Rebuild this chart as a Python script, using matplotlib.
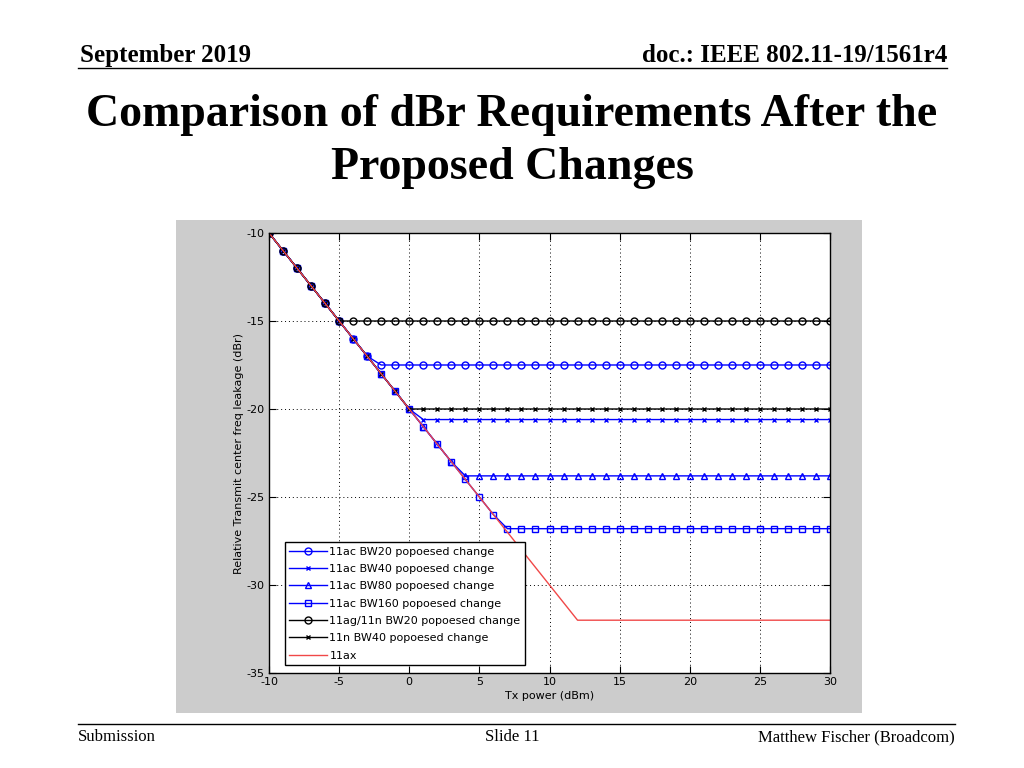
import numpy as np
import matplotlib
matplotlib.use("Agg")
import matplotlib.pyplot as plt
from matplotlib.patches import Rectangle
from matplotlib.lines import Line2D

plt.rcParams["axes.unicode_minus"] = False

# ---- data ----
tx_power = list(range(-10, 31))
slope_start = -10.0  # dBr at -10 dBm, slope -1 dB/dB
floor_ac20 = -17.5
floor_ac40 = -20.6
floor_ac80 = -23.8
floor_ac160 = -26.8
floor_ag20 = -15.0
floor_n40 = -20.0
floor_ax = -32.0

series_labels = ["11ac BW20 popoesed change", "11ac BW40 popoesed change",
                 "11ac BW80 popoesed change", "11ac BW160 popoesed change",
                 "11ag/11n BW20 popoesed change", "11n BW40 popoesed change", "11ax"]
x_ticks = [-10, -5, 0, 5, 10, 15, 20, 25, 30]
y_ticks = [-35, -30, -25, -20, -15, -10]

x = np.array(tx_power, dtype=float)
base = slope_start - (x - x[0])
def curve(floor):
    return np.maximum(base, floor)

ax_x = np.array([-10, 12, 30], dtype=float)
ax_y = np.array([slope_start, floor_ax, floor_ax])

fig = plt.figure(figsize=(10.24, 7.68), dpi=100)
fig.patch.set_facecolor("white")

serif = ["Liberation Serif", "DejaVu Serif"]
# header
fig.text(80/1024, 1-62/768, "September 2019", family=serif, weight="bold", fontsize=18, va="baseline", ha="left")
fig.text(947/1024, 1-62/768, "doc.: IEEE 802.11-19/1561r4", family=serif, weight="bold", fontsize=18, va="baseline", ha="right")
fig.add_artist(Line2D([78/1024, 947/1024], [1-68/768, 1-68/768], color="black", lw=1))
# title
fig.text(512/1024, 1-126/768, "Comparison of dBr Requirements After the", family=serif, weight="bold", fontsize=33, va="baseline", ha="center")
fig.text(512/1024, 1-179/768, "Proposed Changes", family=serif, weight="bold", fontsize=33, va="baseline", ha="center")
# footer
fig.add_artist(Line2D([78/1024, 955/1024], [1-724/768, 1-724/768], color="black", lw=1))
fig.text(78/1024, 1-737/768, "Submission", family=serif, fontsize=12, va="center", ha="left")
fig.text(512/1024, 1-737/768, "Slide 11", family=serif, fontsize=12, va="center", ha="center")
fig.text(955/1024, 1-737/768, "Matthew Fischer (Broadcom)", family=serif, fontsize=12, va="center", ha="right")

# gray panel
fig.add_artist(Rectangle((176/1024, 1-713/768), 686/1024, 493/768, transform=fig.transFigure,
                         facecolor="#cccccc", edgecolor="none", zorder=0))

ax = fig.add_axes([269/1024, 1-673/768, 561/1024, 440/768])
ax.set_facecolor("white")

ms = 5
ax.plot(x, curve(floor_ac20), color="blue", lw=1, marker="o", mfc="none", ms=ms, label=series_labels[0])
ax.plot(x, curve(floor_ac40), color="blue", lw=1, marker="x", ms=3.5, label=series_labels[1])
ax.plot(x, curve(floor_ac80), color="blue", lw=1, marker="^", mfc="none", ms=ms, label=series_labels[2])
ax.plot(x, curve(floor_ac160), color="blue", lw=1, marker="s", mfc="none", ms=ms, label=series_labels[3])
ax.plot(x, curve(floor_ag20), color="black", lw=1, marker="o", mfc="none", ms=ms, label=series_labels[4])
ax.plot(x, curve(floor_n40), color="black", lw=1, marker="x", ms=3.5, label=series_labels[5])
ax.plot(ax_x, ax_y, color="#f04848", lw=1, label=series_labels[6])

ax.set_xlim(-10, 30)
ax.set_ylim(-35, -10)
ax.set_xticks(x_ticks)
ax.set_yticks(y_ticks)
ax.tick_params(direction="in", labelsize=8, length=5, top=True, right=True, pad=3)
ax.grid(True, color="black", linestyle=(0, (1, 3)), lw=0.7)
for s in ax.spines.values():
    s.set_color("black")
    s.set_linewidth(1)
ax.set_xlabel("Tx power (dBm)", fontsize=8, labelpad=3)
ax.set_ylabel("Relative Transmit center freq leakage (dBr)", fontsize=8, labelpad=2)

leg = ax.legend(loc="lower left", bbox_to_anchor=(16/561, 8/440), borderaxespad=0, fontsize=8,
                fancybox=False, edgecolor="black", framealpha=1, handlelength=3.4,
                borderpad=0.4, labelspacing=0.66, handletextpad=0.2)
leg.get_frame().set_linewidth(1)

fig.savefig("out.png", dpi=100)
